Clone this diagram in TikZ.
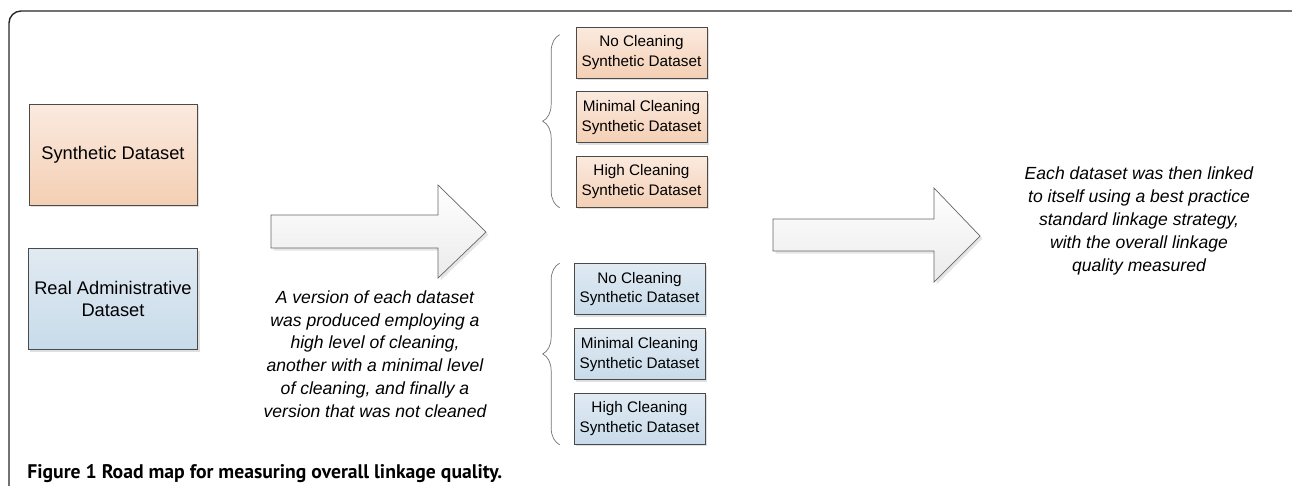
\documentclass[tikz,border=0pt]{standalone}
\usepackage{fontspec}
\setmainfont{Liberation Sans}
\newfontfamily\capfont{PT Sans}
\usepackage{tikz}
\usetikzlibrary{positioning,shadows,decorations.pathreplacing}

\definecolor{PeachTop}{HTML}{FBEADF}
\definecolor{PeachBot}{HTML}{F4CFB4}
\definecolor{BlueTop}{HTML}{E0EAF2}
\definecolor{BlueBot}{HTML}{C8DBEA}
\definecolor{EdgeGray}{HTML}{4A4A4A}

\begin{document}
\begin{tikzpicture}[x=0.02cm,y=-0.02cm,
  bigset/.style={draw=EdgeGray,minimum width=3.36cm,minimum height=2.02cm,align=center,
    font=\fontsize{10.4}{12.5}\selectfont,drop shadow={shadow xshift=0.04cm,shadow yshift=-0.04cm,fill=black!25}},
  smallset/.style={draw=EdgeGray,minimum width=2.62cm,minimum height=1.02cm,align=center,inner sep=1pt,
    font=\fontsize{8.7}{11.3}\selectfont,drop shadow={shadow xshift=0.04cm,shadow yshift=-0.04cm,fill=black!25}},
  peach/.style={top color=PeachTop,bottom color=PeachBot},
  pale/.style={top color=BlueTop,bottom color=BlueBot},
  blockarrow/.style={draw=black!60,top color=white,bottom color=black!8,
    drop shadow={shadow xshift=0.05cm,shadow yshift=-0.05cm,fill=black!20}},
  setbrace/.style={draw=black!55,decorate,decoration={brace,amplitude=0.34cm}},
  note/.style={align=center,font=\itshape\fontsize{10}{13}\selectfont}]
\useasboundingbox (0,0) rectangle (1292,485);

% frame
\draw[black!85,line width=0.8pt,rounded corners=0.24cm] (9,520) -- (9,11) -- (1304,11) -- (1304,520);

% source datasets
\node[bigset,peach] (synth) at (113,154.5) {Synthetic Dataset};
\node[bigset,pale] (real) at (113,299) {Real Administrative\\Dataset};

% first block arrow
\draw[blockarrow] (271,215) -- (438,215) -- (438,185) -- (486,232) -- (438,278) -- (438,248) -- (271,248) -- cycle;

\node[note] (clean) at (375,354) {A version of each dataset\\was produced employing a\\high level of cleaning,\\another with a minimal level\\of cleaning, and finally a\\version that was not cleaned};

% cleaned versions of the synthetic data
\node[smallset,peach] (nc1) at (641.5,52.5) {No Cleaning\\Synthetic Dataset};
\node[smallset,peach,below=0.26cm of nc1] (mc1) {Minimal Cleaning\\Synthetic Dataset};
\node[smallset,peach,below=0.26cm of mc1] (hc1) {High Cleaning\\Synthetic Dataset};

% cleaned versions of the real data
\node[smallset,pale] (nc2) at (639.5,289) {No Cleaning\\Synthetic Dataset};
\node[smallset,pale,below=0.27cm of nc2] (mc2) {Minimal Cleaning\\Synthetic Dataset};
\node[smallset,pale,below=0.26cm of mc2] (hc2) {High Cleaning\\Synthetic Dataset};

\draw[setbrace] ([xshift=-0.32cm]hc1.south west) -- ([xshift=-0.32cm,yshift=-0.16cm]nc1.north west);
\draw[setbrace] ([xshift=-0.28cm]hc2.south west) -- ([xshift=-0.28cm]nc2.north west);

% second block arrow
\draw[blockarrow] (773,219) -- (934,219) -- (934,188) -- (980,236) -- (934,282) -- (934,251) -- (773,251) -- cycle;

\node[note] (link) at (1139,221) {Each dataset was then linked\\to itself using a best practice\\standard linkage strategy,\\with the overall linkage\\quality measured};

% caption
\node[anchor=base west,inner sep=0pt,font=\capfont\bfseries\fontsize{11.2}{13}\selectfont] (cap) at (27,478)
  {Figure 1 Road map for measuring overall linkage quality.};
\end{tikzpicture}
\end{document}
